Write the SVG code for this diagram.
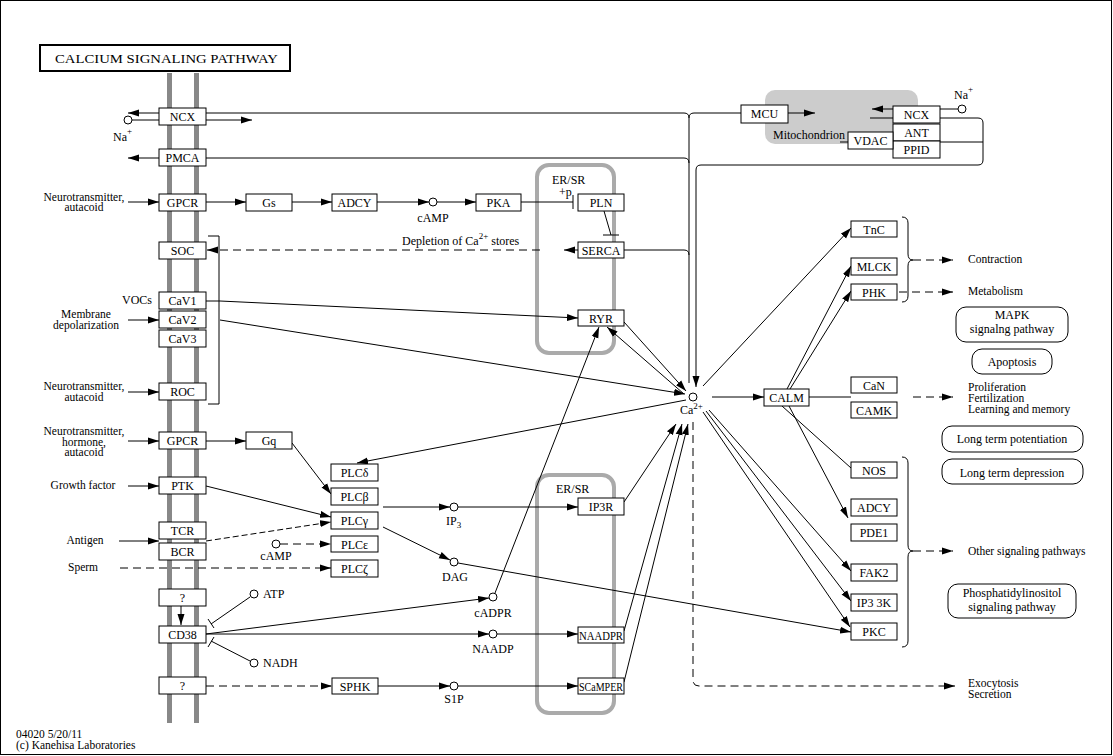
<svg xmlns="http://www.w3.org/2000/svg" width="1113" height="756" viewBox="0 0 1113 756">
<defs>
<marker id="a" markerWidth="12" markerHeight="8" refX="11" refY="4" orient="auto" markerUnits="userSpaceOnUse"><path d="M0,0.5 L11,4 L0,7.5 z" fill="#000"/></marker>
<style>
text{font-family:"Liberation Serif","Times New Roman",serif;font-size:12px;fill:#000}
.s{font-size:11.5px}
.n rect{fill:#fff;stroke:#000;stroke-width:1}
.n text{text-anchor:middle}
.p rect{fill:#fff;stroke:#000;stroke-width:1}
.p text{text-anchor:middle}
#conn path,#conn line{fill:none;stroke:#000;stroke-width:1}
#conn .d{stroke-dasharray:8,5}
#conn .dd{stroke-dasharray:6,3}
.ar{marker-end:url(#a)}
circle.c{fill:#fff;stroke:#000;stroke-width:1}
.m{text-anchor:middle}
</style>
</defs>
<rect x="0.5" y="0.5" width="1111" height="754" fill="#fff" stroke="#000"/>
<g id="title"><rect x="40" y="45" width="250" height="26" fill="#fff" stroke="#000" stroke-width="2"/><text x="55" y="63" font-size="13" textLength="223" lengthAdjust="spacingAndGlyphs">CALCIUM SIGNALING PATHWAY</text></g>
<g id="membrane"><rect x="167" y="73" width="5" height="650" fill="#888"/><rect x="194" y="73" width="5" height="650" fill="#888"/></g>
<g id="er1"><rect x="537" y="165" width="77" height="188" rx="12" fill="none" stroke="#aaa" stroke-width="4"/><text x="552" y="184">ER/SR</text><text x="559" y="196">+p</text></g>
<g id="er2"><rect x="537" y="475" width="77" height="238" rx="12" fill="none" stroke="#aaa" stroke-width="4"/><text x="556" y="493">ER/SR</text></g>
<g id="mito"><rect x="765" y="90" width="153" height="54" rx="10" fill="#ccc"/><text x="773" y="139">Mitochondrion</text></g>

<g id="conn">
<line x1="159" y1="113" x2="128" y2="113" class="ar"/>
<line x1="132" y1="120" x2="159" y2="120"/>
<line x1="206" y1="120" x2="252" y2="120" class="ar"/>
<path d="M206,113 H684 Q689,113 689,118 V383"/>
<line x1="159" y1="158" x2="128" y2="158" class="ar"/>
<path d="M206,158 H684 Q689,158 689,163"/>
<path d="M741,113 H694 Q689,113 689,118"/>
<line x1="788" y1="113" x2="815" y2="113" class="ar"/>
<line x1="893" y1="109" x2="872" y2="109" class="ar"/>
<line x1="870" y1="118" x2="893" y2="118"/>
<line x1="939" y1="109" x2="958" y2="109"/>
<path d="M939,118 H978 Q983,118 983,123 V160 Q983,165 978,165 H701 Q696,165 696,170 V387" class="ar"/>
<line x1="939" y1="142" x2="983" y2="142"/>
<line x1="840" y1="142" x2="848" y2="142"/>
<path d="M624,250 H684 Q689,250 689,255"/>
<line x1="578" y1="250" x2="564" y2="250" class="ar"/>
<line x1="540" y1="250" x2="207" y2="250" class="ar d"/>
<line x1="604" y1="211" x2="611" y2="235"/>
<line x1="603" y1="235" x2="619" y2="235"/>
<line x1="521" y1="202" x2="573" y2="202"/>
<line x1="573" y1="195" x2="573" y2="209"/>
<line x1="128" y1="202" x2="159" y2="202" class="ar"/>
<line x1="206" y1="202" x2="246" y2="202" class="ar"/>
<line x1="292" y1="202" x2="332" y2="202" class="ar"/>
<line x1="377" y1="202" x2="429" y2="202" class="ar"/>
<line x1="437" y1="202" x2="476" y2="202" class="ar"/>
<line x1="128" y1="320" x2="159" y2="320" class="ar"/>
<line x1="128" y1="392" x2="159" y2="392" class="ar"/>
<line x1="128" y1="441" x2="159" y2="441" class="ar"/>
<line x1="128" y1="486" x2="159" y2="486" class="ar"/>
<line x1="119" y1="541" x2="159" y2="541" class="ar"/>
<path d="M206,301 H220 L578,318" class="ar"/>
<line x1="220" y1="320" x2="685" y2="394" class="ar"/>
<path d="M208,236 H219 V404 H208"/>
<line x1="206" y1="441" x2="246" y2="441" class="ar"/>
<line x1="292" y1="443" x2="331" y2="494" class="ar"/>
<line x1="206" y1="486" x2="331" y2="517" class="ar"/>
<line x1="206" y1="541" x2="331" y2="522" class="ar dd"/>
<line x1="280" y1="544" x2="331" y2="544" class="ar d"/>
<line x1="120" y1="568" x2="331" y2="568" class="ar d"/>
<line x1="383" y1="507" x2="450" y2="507" class="ar"/>
<line x1="458" y1="507" x2="578" y2="507" class="ar"/>
<line x1="383" y1="527" x2="450" y2="560" class="ar"/>
<line x1="458" y1="563" x2="851" y2="632" class="ar"/>
<line x1="181" y1="606" x2="181" y2="625" class="ar"/>
<line x1="250" y1="597" x2="211" y2="624"/>
<line x1="208" y1="619" x2="214" y2="628"/>
<line x1="250" y1="661" x2="211" y2="641"/>
<line x1="208" y1="647" x2="214" y2="637"/>
<line x1="206" y1="634" x2="489" y2="598" class="ar"/>
<line x1="206" y1="634" x2="489" y2="634" class="ar"/>
<line x1="497" y1="634" x2="578" y2="634" class="ar"/>
<line x1="206" y1="686" x2="332" y2="686" class="ar d"/>
<line x1="378" y1="686" x2="450" y2="686" class="ar"/>
<line x1="458" y1="686" x2="578" y2="686" class="ar"/>
<line x1="495" y1="593" x2="599" y2="327" class="ar"/>
<line x1="624" y1="322" x2="686" y2="391" class="ar"/>
<line x1="684" y1="394" x2="607" y2="327" class="ar"/>
<line x1="686" y1="400" x2="357" y2="463" class="ar"/>
<line x1="624" y1="502" x2="676" y2="424" class="ar"/>
<line x1="624" y1="631" x2="682" y2="424" class="ar"/>
<line x1="624" y1="682" x2="688" y2="424" class="ar"/>
<line x1="712" y1="397" x2="764" y2="397" class="ar"/>
<line x1="703" y1="386" x2="851" y2="228" class="ar"/>
<line x1="787" y1="389" x2="851" y2="266" class="ar"/>
<line x1="790" y1="389" x2="851" y2="291" class="ar"/>
<line x1="809" y1="397" x2="851" y2="397"/>
<line x1="782" y1="406" x2="851" y2="468"/>
<line x1="789" y1="406" x2="848" y2="518" class="ar"/>
<line x1="709" y1="410" x2="851" y2="571" class="ar"/>
<line x1="706" y1="411" x2="851" y2="601" class="ar"/>
<line x1="703" y1="412" x2="850" y2="627" class="ar"/>
<path d="M693,422 V680 Q693,686 699,686 H955" class="ar d"/>
<path d="M902,217 Q908,217 908,223 V254 Q908,260 913,260 Q908,260 908,266 V296 Q908,302 902,302"/>
<line x1="913" y1="260" x2="953" y2="260" class="ar d"/>
<line x1="899" y1="292" x2="953" y2="292" class="ar d"/>
<line x1="913" y1="397" x2="953" y2="397" class="ar d"/>
<path d="M902,457 Q908,457 908,463 V545 Q908,551 913,551 Q908,551 908,557 V641 Q908,647 902,647"/>
<line x1="913" y1="551" x2="953" y2="551" class="ar d"/>
</g>

<g id="compounds">
<circle class="c" cx="128" cy="120" r="4"/>
<circle class="c" cx="962" cy="109" r="4"/>
<circle class="c" cx="433" cy="202" r="4"/>
<circle class="c" cx="276" cy="544" r="4"/>
<circle class="c" cx="454" cy="507" r="4"/>
<circle class="c" cx="454" cy="562" r="4"/>
<circle class="c" cx="254" cy="594" r="4"/>
<circle class="c" cx="254" cy="663" r="4"/>
<circle class="c" cx="493" cy="597" r="4"/>
<circle class="c" cx="493" cy="634" r="4"/>
<circle class="c" cx="454" cy="686" r="4"/>
<circle class="c" cx="693" cy="397" r="4"/>
</g>

<g id="labels">
<text x="113" y="141">Na<tspan dy="-7" font-size="9">+</tspan></text>
<text x="954" y="99">Na<tspan dy="-7" font-size="9">+</tspan></text>
<text x="680" y="414">Ca<tspan dy="-5" font-size="9">2+</tspan></text>
<text x="433" y="222" class="m">cAMP</text>
<text x="276" y="560" class="m">cAMP</text>
<text x="446" y="525">IP<tspan dy="3" font-size="9">3</tspan></text>
<text x="455" y="581" class="m">DAG</text>
<text x="493" y="617" class="m">cADPR</text>
<text x="493" y="653" class="m">NAADP</text>
<text x="454" y="703" class="m">S1P</text>
<text x="263" y="598">ATP</text>
<text x="263" y="667">NADH</text>
<text x="402" y="245">Depletion of Ca<tspan dy="-6" font-size="9">2+</tspan><tspan dy="6"> stores</tspan></text>
<text x="84" y="201" class="s m">Neurotransmitter,</text>
<text x="84" y="211" class="s m">autacoid</text>
<text x="122" y="304">VOCs</text>
<text x="86" y="318" class="s m">Membrane</text>
<text x="86" y="329" class="s m">depolarization</text>
<text x="84" y="390" class="s m">Neurotransmitter,</text>
<text x="84" y="401" class="s m">autacoid</text>
<text x="84" y="435" class="s m">Neurotransmitter,</text>
<text x="84" y="446" class="s m">hormone,</text>
<text x="84" y="456" class="s m">autacoid</text>
<text x="83" y="489" class="s m">Growth factor</text>
<text x="85" y="544" class="s m">Antigen</text>
<text x="83" y="571" class="s m">Sperm</text>
<text x="968" y="263" class="s">Contraction</text>
<text x="968" y="295" class="s">Metabolism</text>
<text x="968" y="391" class="s">Proliferation</text>
<text x="968" y="402" class="s">Fertilization</text>
<text x="968" y="413" class="s">Learning and memory</text>
<text x="968" y="555" class="s">Other signaling pathways</text>
<text x="968" y="687" class="s">Exocytosis</text>
<text x="968" y="698" class="s">Secretion</text>
<text x="16" y="738" class="s">04020 5/20/11</text>
<text x="16" y="749" class="s">(c) Kanehisa Laboratories</text>
</g>

<g id="NCX" class="n"><rect x="159" y="108" width="47" height="17"/><text x="182.5" y="121">NCX</text></g>
<g id="PMCA" class="n"><rect x="159" y="149" width="47" height="17"/><text x="182.5" y="162">PMCA</text></g>
<g id="GPCR1" class="n"><rect x="159" y="194" width="47" height="17"/><text x="182.5" y="207">GPCR</text></g>
<g id="SOC" class="n"><rect x="159" y="242" width="47" height="17"/><text x="182.5" y="255">SOC</text></g>
<g id="CaV1" class="n"><rect x="159" y="292" width="47" height="17"/><text x="182.5" y="305">CaV1</text></g>
<g id="CaV2" class="n"><rect x="159" y="311" width="47" height="17"/><text x="182.5" y="324">CaV2</text></g>
<g id="CaV3" class="n"><rect x="159" y="330" width="47" height="17"/><text x="182.5" y="343">CaV3</text></g>
<g id="ROC" class="n"><rect x="159" y="383" width="47" height="17"/><text x="182.5" y="396">ROC</text></g>
<g id="GPCR2" class="n"><rect x="159" y="432" width="47" height="17"/><text x="182.5" y="445">GPCR</text></g>
<g id="PTK" class="n"><rect x="159" y="477" width="47" height="17"/><text x="182.5" y="490">PTK</text></g>
<g id="TCR" class="n"><rect x="159" y="522" width="47" height="17"/><text x="182.5" y="535">TCR</text></g>
<g id="BCR" class="n"><rect x="159" y="543" width="47" height="17"/><text x="182.5" y="556">BCR</text></g>
<g id="Q1" class="n"><rect x="159" y="589" width="47" height="17"/><text x="182.5" y="602">?</text></g>
<g id="CD38" class="n"><rect x="159" y="626" width="47" height="17"/><text x="182.5" y="639">CD38</text></g>
<g id="Q2" class="n"><rect x="159" y="677" width="47" height="17"/><text x="182.5" y="690">?</text></g>
<g id="Gs" class="n"><rect x="246" y="194" width="46" height="17"/><text x="269" y="207">Gs</text></g>
<g id="Gq" class="n"><rect x="246" y="432" width="46" height="17"/><text x="269" y="445">Gq</text></g>
<g id="ADCY1" class="n"><rect x="332" y="194" width="45" height="17"/><text x="354.5" y="207">ADCY</text></g>
<g id="PKA" class="n"><rect x="476" y="194" width="45" height="17"/><text x="498.5" y="207">PKA</text></g>
<g id="PLN" class="n"><rect x="578" y="194" width="46" height="17"/><text x="601" y="207">PLN</text></g>
<g id="SERCA" class="n"><rect x="578" y="242" width="46" height="16"/><text x="601" y="255">SERCA</text></g>
<g id="RYR" class="n"><rect x="578" y="310" width="46" height="16"/><text x="601" y="323">RYR</text></g>
<g id="PLCd" class="n"><rect x="331" y="464" width="47" height="17"/><text x="354.5" y="477">PLCδ</text></g>
<g id="PLCb" class="n"><rect x="331" y="488" width="47" height="17"/><text x="354.5" y="501">PLCβ</text></g>
<g id="PLCg" class="n"><rect x="331" y="512" width="47" height="17"/><text x="354.5" y="525">PLCγ</text></g>
<g id="PLCe" class="n"><rect x="331" y="536" width="47" height="16"/><text x="354.5" y="549">PLCε</text></g>
<g id="PLCz" class="n"><rect x="331" y="560" width="47" height="17"/><text x="354.5" y="573">PLCζ</text></g>
<g id="IP3R" class="n"><rect x="578" y="498" width="46" height="17"/><text x="601" y="511">IP3R</text></g>
<g id="NAADPR" class="n"><rect x="578" y="627" width="46" height="16"/><text x="601" y="640" textLength="44" lengthAdjust="spacingAndGlyphs">NAADPR</text></g>
<g id="SCaMPER" class="n"><rect x="578" y="678" width="46" height="16"/><text x="601" y="691" textLength="44" lengthAdjust="spacingAndGlyphs">SCaMPER</text></g>
<g id="SPHK" class="n"><rect x="332" y="678" width="46" height="16"/><text x="355" y="691">SPHK</text></g>
<g id="MCU" class="n"><rect x="741" y="105" width="47" height="18"/><text x="764.5" y="118">MCU</text></g>
<g id="NCXm" class="n"><rect x="893" y="106" width="47" height="17"/><text x="916.5" y="119">NCX</text></g>
<g id="ANT" class="n"><rect x="893" y="124" width="47" height="17"/><text x="916.5" y="137">ANT</text></g>
<g id="PPID" class="n"><rect x="893" y="141" width="47" height="17"/><text x="916.5" y="154">PPID</text></g>
<g id="VDAC" class="n"><rect x="848" y="132" width="45" height="17"/><text x="870.5" y="145">VDAC</text></g>
<g id="CALM" class="n"><rect x="764" y="389" width="45" height="17"/><text x="786.5" y="402">CALM</text></g>
<g id="TnC" class="n"><rect x="851" y="221" width="46" height="16"/><text x="874" y="234">TnC</text></g>
<g id="MLCK" class="n"><rect x="851" y="258" width="46" height="17"/><text x="874" y="271">MLCK</text></g>
<g id="PHK" class="n"><rect x="851" y="284" width="46" height="16"/><text x="874" y="297">PHK</text></g>
<g id="CaN" class="n"><rect x="851" y="377" width="46" height="16"/><text x="874" y="390">CaN</text></g>
<g id="CAMK" class="n"><rect x="851" y="402" width="46" height="16"/><text x="874" y="415">CAMK</text></g>
<g id="NOS" class="n"><rect x="851" y="462" width="46" height="16"/><text x="874" y="475">NOS</text></g>
<g id="ADCY2" class="n"><rect x="851" y="499" width="46" height="17"/><text x="874" y="512">ADCY</text></g>
<g id="PDE1" class="n"><rect x="851" y="524" width="46" height="17"/><text x="874" y="537">PDE1</text></g>
<g id="FAK2" class="n"><rect x="851" y="564" width="46" height="17"/><text x="874" y="577">FAK2</text></g>
<g id="IP33K" class="n"><rect x="851" y="594" width="46" height="17"/><text x="874" y="607">IP3 3K</text></g>
<g id="PKC" class="n"><rect x="851" y="623" width="46" height="17"/><text x="874" y="636">PKC</text></g>

<g id="MAPK" class="p"><rect x="956" y="307" width="112" height="35" rx="10"/><text x="1012" y="318.5">MAPK</text><text x="1012" y="332.5">signalng pathway</text></g>
<g id="Apoptosis" class="p"><rect x="972" y="349" width="80" height="25" rx="10"/><text x="1012" y="366">Apoptosis</text></g>
<g id="LTP" class="p"><rect x="942" y="426" width="141" height="26" rx="10"/><text x="1012" y="443">Long term potentiation</text></g>
<g id="LTD" class="p"><rect x="942" y="459" width="141" height="25" rx="10"/><text x="1012" y="477">Long term depression</text></g>
<g id="PI" class="p"><rect x="948" y="584" width="128" height="34" rx="10"/><text x="1012" y="596.5">Phosphatidylinositol</text><text x="1012" y="610.5">signaling pathway</text></g>
</svg>
